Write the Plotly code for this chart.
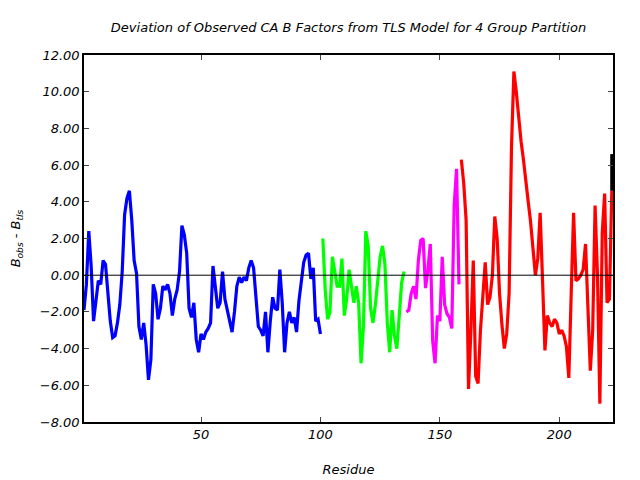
import plotly.graph_objects as go

# Group 1 (blue) residues 1-100
res_g1 = list(range(1, 101))
val_g1 = [-1.9, -0.5, 2.4, 0.5, -2.5, -1.2, -0.3, -0.5, 0.8, 0.6,
          -1.2, -2.5, -3.4, -3.3, -2.6, -1.6, 0.2, 3.3, 4.2, 4.6,
          3.0, 0.8, 0.1, -2.8, -3.5, -2.6, -3.8, -5.7, -4.6, -0.5,
          -1.0, -2.4, -1.8, -0.6, -0.8, -0.5, -1.0, -2.2, -1.3, -0.8,
          0.2, 2.7, 2.2, 1.2, -1.8, -2.3, -1.5, -3.5, -4.2, -3.2,
          -3.5, -3.1, -2.9, -2.6, 0.5, -0.8, -1.8, -1.5, 0.2, -1.3,
          -1.9, -2.6, -3.1, -2.0, -0.6, -0.1, -0.4, -0.1, -0.3, 0.4,
          0.8, 0.4, -1.3, -2.8, -3.0, -3.3, -2.0, -4.2, -2.5, -1.2,
          -1.8, -1.9, 0.3, -1.5, -4.2, -2.6, -2.0, -2.6, -2.3, -3.1,
          -1.4, -0.5, 0.7, 1.1, 1.2, -0.2, 0.4, -2.5, -2.4, -3.2]

# Group 2 (green) residues 101-135
res_g2 = list(range(101, 136))
val_g2 = [2.0, -0.8, -2.4, -2.0, 1.0, 0.2, -0.6, -0.6, 0.9, -2.2,
          -1.3, 0.3, -0.7, -1.5, -0.6, -1.5, -4.8, -2.8, 2.4, 1.6,
          -1.8, -2.6, -1.6, -0.4, 1.0, 1.6, 0.6, -2.6, -4.2, -1.9,
          -3.3, -4.0, -2.0, -0.4, 0.2]

# Group 3 (magenta) residues 136-158
res_g3 = list(range(136, 159))
val_g3 = [-2.0, -1.9, -1.0, -0.6, -1.3, 0.8, 1.9, 2.0, -0.7, 0.3,
          1.7, -3.6, -4.8, -2.2, -2.5, 1.0, -1.6, -2.1, -2.3, -2.9,
          3.8, 5.8, -0.5]

# Group 4 (red) residues 159-222
val_g4 = [6.3, 5.0, 3.0, -6.2, -3.0, 0.8, -5.5, -5.9, -3.0, -1.0,
          0.7, -1.6, -1.2, 0.0, 3.2, 2.0, -1.0, -2.7, -4.0, -3.2,
          -1.0, 7.0, 11.1, 10.0, 8.6, 7.3, 6.3, 5.0, 4.0, 2.9,
          1.4, 0.0, 0.9, 3.4, -0.3, -4.1, -2.2, -2.6, -2.8, -2.4,
          -2.6, -3.2, -3.0, -3.3, -3.9, -5.6, -1.0, 3.4, -0.3, -0.2,
          0.0, 0.3, 1.7, -1.5, -5.2, -3.0, 3.8, 0.0, -7.0, 2.3,
          4.45, -1.5, -1.3, 4.6]
res_g4 = list(range(159, 159 + len(val_g4)))

# Final (black) segment
res_g5 = [res_g4[-1], res_g4[-1]]
val_g5 = [4.6, 6.6]

x_ticks = [50, 100, 150, 200]
y_ticks = [-8, -6, -4, -2, 0, 2, 4, 6, 8, 10, 12]

groups = [
    (res_g1, val_g1, "#0000ff"),
    (res_g2, val_g2, "#00ff00"),
    (res_g3, val_g3, "#ff00ff"),
    (res_g4, val_g4, "#ff0000"),
    (res_g5, val_g5, "#000000"),
]

fig = go.Figure()
for xs, ys, col in groups:
    fig.add_trace(go.Scatter(x=xs, y=ys, mode="lines",
                             line=dict(color=col, width=3.2),
                             showlegend=False, hoverinfo="skip"))

fig.add_hline(y=0, line=dict(color="black", width=1), layer="above")

font_family = "DejaVu Sans"
fig.update_layout(
    width=640, height=480,
    margin=dict(l=84, r=27, t=55, b=58),
    paper_bgcolor="white", plot_bgcolor="white",
    title=dict(text="Deviation of Observed CA B Factors from TLS Model for 4 Group Partition",
               x=348.5 / 640, xanchor="center", y=1 - 27 / 480, yanchor="middle",
               font=dict(family=font_family, size=13, style="italic", color="black")),
    showlegend=False,
)
fig.update_xaxes(range=[1, 222.5], tickvals=x_ticks, ticks="inside", ticklen=5,
                 showline=True, linecolor="black", linewidth=1.5, mirror="ticks",
                 showgrid=False, zeroline=False, automargin=False,
                 tickfont=dict(family=font_family, size=13, style="italic", color="black"),
                 title=dict(text="Residue", standoff=24,
                            font=dict(family=font_family, size=13, style="italic", color="black")))
fig.update_yaxes(range=[-8, 12], tickvals=y_ticks, tickformat=".2f", ticks="inside", ticklen=5,
                 showline=True, linecolor="black", linewidth=1.5, mirror="ticks",
                 showgrid=False, zeroline=False, automargin=False,
                 tickfont=dict(family=font_family, size=13, style="italic", color="black"),
                 title=dict(text="B<sub>obs</sub> - B<sub>tls</sub>", standoff=16,
                            font=dict(family=font_family, size=13, style="italic", color="black")))

fig.write_html("out.html")
